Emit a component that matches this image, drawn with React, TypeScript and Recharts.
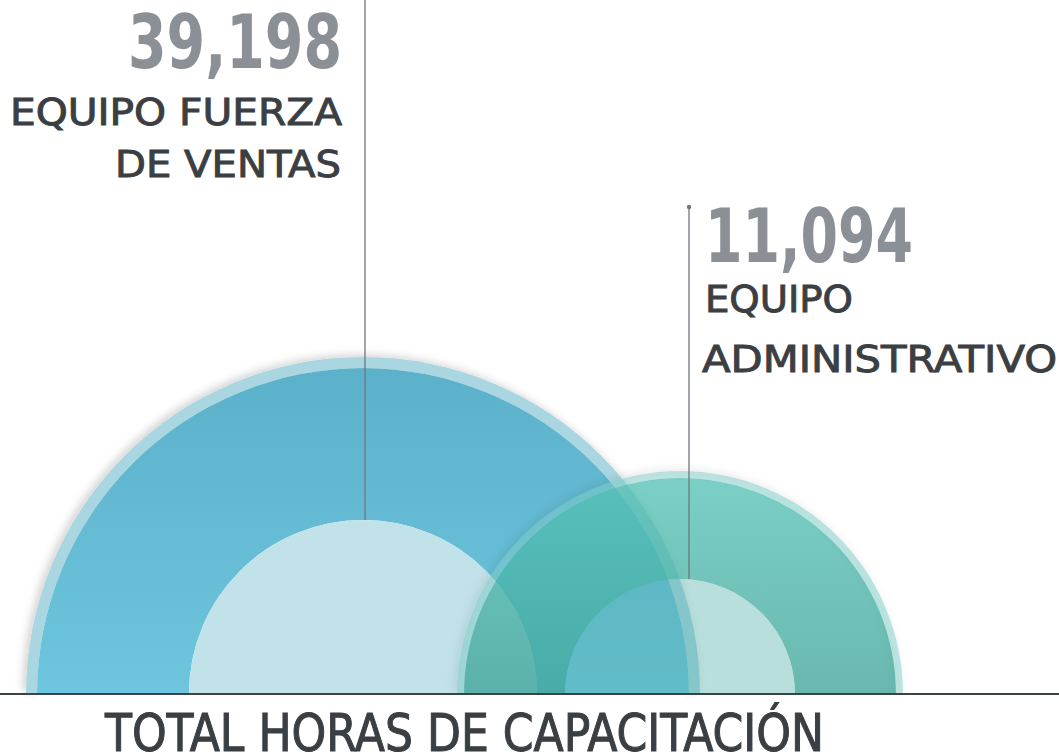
import { Cell, Pie, PieChart } from 'recharts'

const groups = ['EQUIPO FUERZA DE VENTAS', 'EQUIPO ADMINISTRATIVO']
const hours = [39198, 11094]
const labelLines = [
  ['EQUIPO FUERZA', 'DE VENTAS'],
  ['EQUIPO', 'ADMINISTRATIVO'],
]
const title = 'TOTAL HORAS DE CAPACITACIÓN'

const W = 1059
const H = 754
const BASE_Y = 694
const FONT = '"DejaVu Sans Condensed", "Liberation Sans Narrow", Roboto, sans-serif'

function formatHours(value: number) {
  return value.toLocaleString('en-US')
}

// one half ring per group, drawn as rim + band + inner disc
const rings = [
  {
    cx: 363,
    rim: [326, 337],
    band: [174, 326],
    inner: 174,
    rimFill: '#a9d6e0',
    rimOpacity: 1,
    bandFill: 'url(#bandBlue)',
    bandOpacity: 1,
    innerFill: '#c2e2ea',
    innerOpacity: 1,
    shadow: 'url(#softShadow)',
  },
  {
    cx: 680,
    rim: [216, 223],
    band: [115, 216],
    inner: 115,
    rimFill: '#7ccdc7',
    rimOpacity: 0.5,
    bandFill: 'url(#bandTeal)',
    bandOpacity: 0.78,
    innerFill: '#50afaa',
    innerOpacity: 0.4,
    shadow: 'url(#softShadow)',
  },
]

const labelStyle = {
  fontFamily: FONT,
  fontSize: 38,
  fill: '#3b3f43',
  stroke: '#3b3f43',
  strokeWidth: 0.9,
}

const numberStyle = {
  fontFamily: FONT,
  fontSize: 75,
  fontWeight: 'bold' as const,
  fill: '#8b9096',
}

export default function App() {
  const data = groups.map((name, i) => [{ name, value: hours[i] }])

  return (
    <div style={{ position: 'absolute', left: 0, top: 0, width: W, height: H, background: '#fff', overflow: 'hidden' }}>
      <PieChart width={W} height={H} margin={{ top: 0, right: 0, bottom: 0, left: 0 }}>
        <defs>
          <linearGradient id="bandBlue" x1="0" y1="0" x2="0" y2="1">
            <stop offset="0%" stopColor="#5cb1ca" />
            <stop offset="100%" stopColor="#6dc6dd" />
          </linearGradient>
          <linearGradient id="bandTeal" x1="0" y1="0" x2="0" y2="1">
            <stop offset="0%" stopColor="#56c2b6" />
            <stop offset="100%" stopColor="#3ea498" />
          </linearGradient>
          <filter id="softShadow" x="-10%" y="-10%" width="120%" height="120%">
            <feDropShadow dx={-3} dy={-2} stdDeviation={4} floodColor="#000" floodOpacity={0.18} />
          </filter>
        </defs>
        {rings.flatMap((r, i) => [
          <Pie
            key={`rim${i}`}
            data={data[i]}
            dataKey="value"
            cx={r.cx}
            cy={BASE_Y}
            startAngle={180}
            endAngle={0}
            innerRadius={r.rim[0]}
            outerRadius={r.rim[1]}
            stroke="none"
            style={{ filter: r.shadow }}
            isAnimationActive={false}
          >
            <Cell fill={r.rimFill} fillOpacity={r.rimOpacity} />
          </Pie>,
          <Pie
            key={`band${i}`}
            data={data[i]}
            dataKey="value"
            cx={r.cx}
            cy={BASE_Y}
            startAngle={180}
            endAngle={0}
            innerRadius={r.band[0]}
            outerRadius={r.band[1]}
            stroke="none"
            isAnimationActive={false}
          >
            <Cell fill={r.bandFill} fillOpacity={r.bandOpacity} />
          </Pie>,
          <Pie
            key={`inner${i}`}
            data={data[i]}
            dataKey="value"
            cx={r.cx}
            cy={BASE_Y}
            startAngle={180}
            endAngle={0}
            innerRadius={0}
            outerRadius={r.inner}
            stroke="none"
            isAnimationActive={false}
          >
            <Cell fill={r.innerFill} fillOpacity={r.innerOpacity} />
          </Pie>,
        ])}
      </PieChart>

      <svg width={W} height={H} style={{ position: 'absolute', left: 0, top: 0, pointerEvents: 'none' }}>
        <line x1={0} x2={W} y1={BASE_Y} y2={BASE_Y} stroke="#3b4347" strokeWidth={2} />

        {/* leader lines */}
        <line x1={365} x2={365} y1={0} y2={BASE_Y - rings[0].inner} stroke="#70767b" strokeWidth={1.3} />
        <line x1={689} x2={689} y1={207} y2={BASE_Y - rings[1].inner} stroke="#70767b" strokeWidth={1.3} />
        <circle cx={689} cy={207} r={2.2} fill="#70767b" />

        {/* big group */}
        <text x={128} y={68} textLength={214} lengthAdjust="spacingAndGlyphs" {...numberStyle}>
          {formatHours(hours[0])}
        </text>
        <text x={10} y={125} textLength={332} lengthAdjust="spacingAndGlyphs" {...labelStyle}>
          {labelLines[0][0]}
        </text>
        <text x={115} y={177} textLength={226} lengthAdjust="spacingAndGlyphs" {...labelStyle}>
          {labelLines[0][1]}
        </text>

        {/* small group */}
        <text x={705} y={262} textLength={208} lengthAdjust="spacingAndGlyphs" {...numberStyle}>
          {formatHours(hours[1])}
        </text>
        <text x={705} y={312} textLength={148} lengthAdjust="spacingAndGlyphs" {...labelStyle}>
          {labelLines[1][0]}
        </text>
        <text x={702} y={372} textLength={355} lengthAdjust="spacingAndGlyphs" {...labelStyle}>
          {labelLines[1][1]}
        </text>

        <text
          x={105}
          y={751}
          textLength={719}
          lengthAdjust="spacingAndGlyphs"
          fontFamily={FONT}
          fontSize={51}
          fill="#3a3f43"
          stroke="#3a3f43"
          strokeWidth={1}
        >
          {title}
        </text>
      </svg>
    </div>
  )
}
